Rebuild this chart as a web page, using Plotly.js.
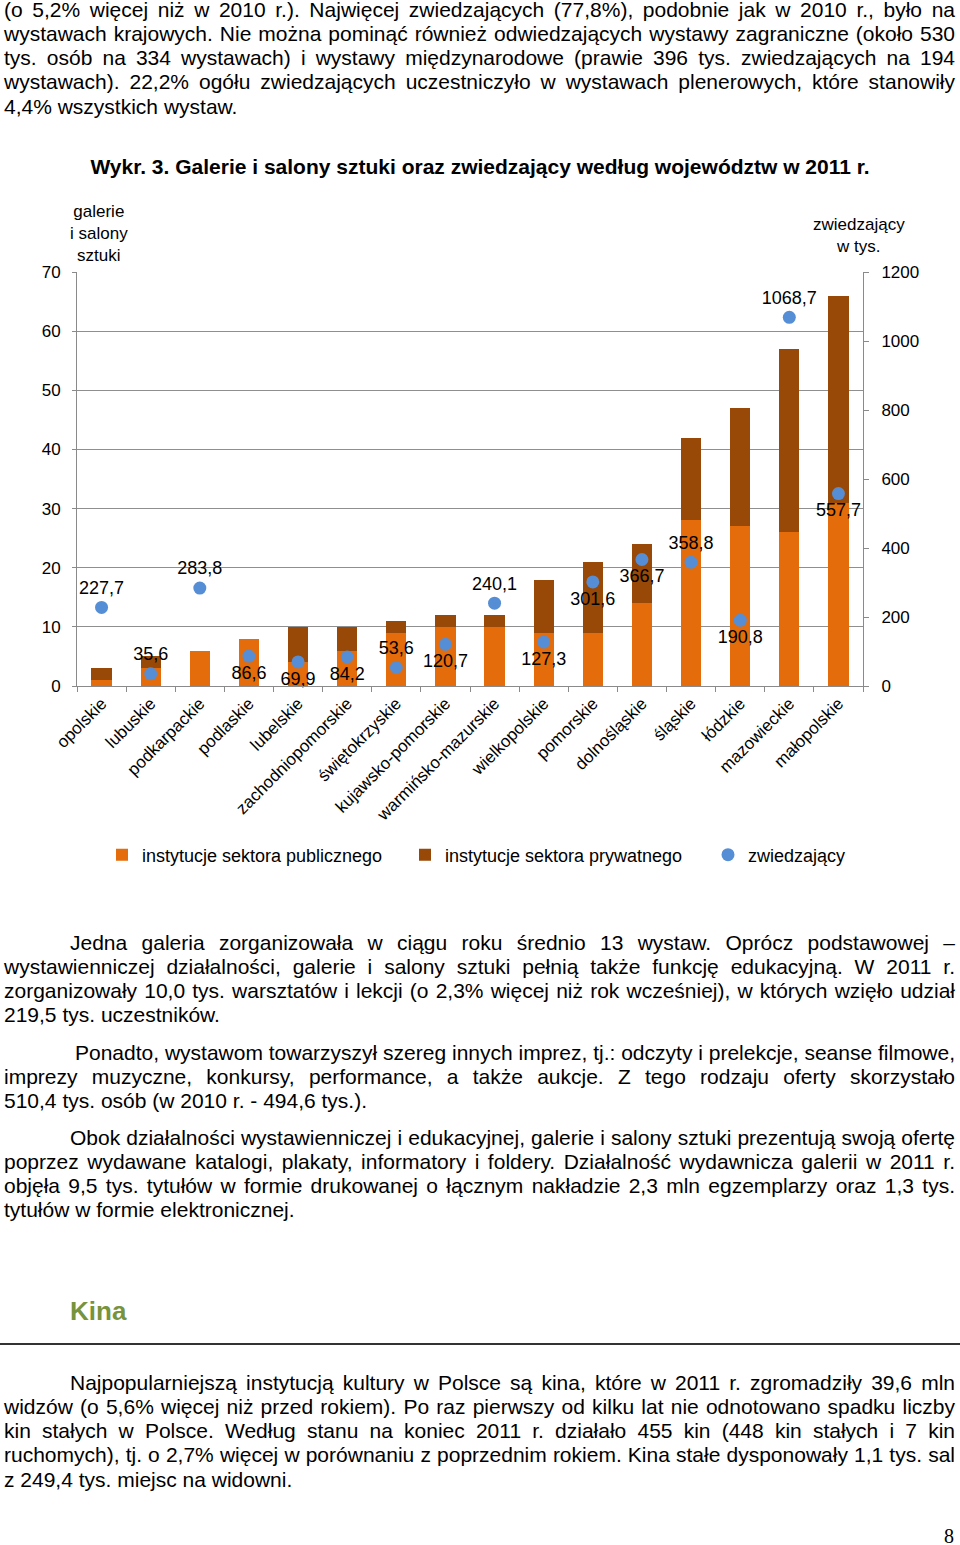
<!DOCTYPE html>
<html>
<head>
<meta charset="utf-8">
<script src="https://cdn.plot.ly/plotly-3.0.1.min.js"></script>
<style>
  html, body { margin: 0; padding: 0; background: #fff; }
  body { width: 960px; height: 1545px; position: relative; overflow: hidden;
         font-family: "Liberation Sans", Arial, sans-serif; color: #000; }
  .blk { position: absolute; left: 4px; width: 951px; font-size: 21px; line-height: 24.25px; }
  .ln { display: block; white-space: nowrap; height: 24.25px; }
  .ln span { display: inline-block; white-space: nowrap; }
  #chart { position: absolute; left: 0; top: 140px; width: 960px; height: 760px; }
  #kina { position: absolute; left: 70px; top: 1294px; font-size: 26px; font-weight: bold; color: #77933C; line-height: 34px; }
  #rule { position: absolute; left: 0; top: 1343px; width: 960px; height: 2px; background: #333; }
  #pg { position: absolute; left: 944px; top: 1524px; font-family: "Liberation Serif", "Times New Roman", serif; font-size: 20px; line-height: 24px; }
</style>
</head>
<body>

<div class="blk" style="top:-2.5px">
  <div class="ln j"><span>(o 5,2% więcej niż w 2010 r.). Najwięcej zwiedzających (77,8%), podobnie jak w 2010 r., było na</span></div>
  <div class="ln j"><span>wystawach krajowych. Nie można pominąć również odwiedzających wystawy zagraniczne (około 530</span></div>
  <div class="ln j"><span>tys. osób na 334 wystawach) i wystawy międzynarodowe (prawie 396 tys. zwiedzających na 194</span></div>
  <div class="ln j"><span>wystawach). 22,2% ogółu zwiedzających uczestniczyło w wystawach plenerowych, które stanowiły</span></div>
  <div class="ln"><span>4,4% wszystkich wystaw.</span></div>
</div>

<div id="chart"></div>

<div class="blk" style="top:930.5px">
  <div class="ln j" data-indent="66"><span>Jedna galeria zorganizowała w ciągu roku średnio 13 wystaw. Oprócz podstawowej –</span></div>
  <div class="ln j"><span>wystawienniczej działalności, galerie i salony sztuki pełnią także funkcję edukacyjną. W 2011 r.</span></div>
  <div class="ln j"><span>zorganizowały 10,0 tys. warsztatów i lekcji (o 2,3% więcej niż rok wcześniej), w których wzięło udział</span></div>
  <div class="ln"><span>219,5 tys. uczestników.</span></div>
</div>

<div class="blk" style="top:1040.5px">
  <div class="ln j" data-indent="71"><span>Ponadto, wystawom towarzyszył szereg innych imprez, tj.: odczyty i prelekcje, seanse filmowe,</span></div>
  <div class="ln j"><span>imprezy muzyczne, konkursy, performance, a także aukcje. Z tego rodzaju oferty skorzystało</span></div>
  <div class="ln"><span>510,4 tys. osób (w 2010 r. - 494,6 tys.).</span></div>
</div>

<div class="blk" style="top:1125.5px">
  <div class="ln j" data-indent="66"><span>Obok działalności wystawienniczej i edukacyjnej, galerie i salony sztuki prezentują swoją ofertę</span></div>
  <div class="ln j"><span>poprzez wydawane katalogi, plakaty, informatory i foldery. Działalność wydawnicza galerii w 2011 r.</span></div>
  <div class="ln j"><span>objęła 9,5 tys. tytułów w formie drukowanej o łącznym nakładzie 2,3 mln egzemplarzy oraz 1,3 tys.</span></div>
  <div class="ln"><span>tytułów w formie elektronicznej.</span></div>
</div>

<div id="kina">Kina</div>
<div id="rule"></div>

<div class="blk" style="top:1370.5px">
  <div class="ln j" data-indent="66"><span>Najpopularniejszą instytucją kultury w Polsce są kina, które w 2011 r. zgromadziły 39,6 mln</span></div>
  <div class="ln j"><span>widzów (o 5,6% więcej niż przed rokiem). Po raz pierwszy od kilku lat nie odnotowano spadku liczby</span></div>
  <div class="ln j"><span>kin stałych w Polsce. Według stanu na koniec 2011 r. działało 455 kin (448 kin stałych i 7 kin</span></div>
  <div class="ln j"><span>ruchomych), tj. o 2,7% więcej w porównaniu z poprzednim rokiem. Kina stałe dysponowały 1,1 tys. sal</span></div>
  <div class="ln"><span>z 249,4 tys. miejsc na widowni.</span></div>
</div>

<div id="pg">8</div>

<script>
// ---- data ----
var regions = ['opolskie','lubuskie','podkarpackie','podlaskie','lubelskie','zachodniopomorskie',
  'świętokrzyskie','kujawsko-pomorskie','warmińsko-mazurskie','wielkopolskie','pomorskie',
  'dolnośląskie','śląskie','łódzkie','mazowieckie','małopolskie'];
var publicSector  = [1, 3, 6, 8, 4, 6, 9, 10, 10, 9, 9, 14, 28, 27, 26, 31];
var privateSector = [2, 2, 0, 0, 6, 4, 2, 2, 2, 9, 12, 10, 14, 20, 31, 35];
var visitors = [227.7, 35.6, 283.8, 86.6, 69.9, 84.2, 53.6, 120.7, 240.1, 127.3, 301.6,
  366.7, 358.8, 190.8, 1068.7, 557.7];
var leftTicks = [0, 10, 20, 30, 40, 50, 60, 70];
var rightTicks = [0, 200, 400, 600, 800, 1000, 1200];

var FONT = '"Liberation Sans", Arial, sans-serif';
var visitorText = visitors.map(function(v){ return v.toFixed(1).replace('.', ','); });
var labelPos = ['top center','top center','top center','bottom center','bottom center','bottom center',
  'top center','bottom center','top center','bottom center','bottom center','bottom center',
  'top center','bottom center','top center','bottom center'];

var traces = [
  { type: 'bar', name: 'instytucje sektora publicznego', x: regions, y: publicSector,
    marker: { color: '#E46C0A' }, hoverinfo: 'x+y', legend: 'legend' },
  { type: 'bar', name: 'instytucje sektora prywatnego', x: regions, y: privateSector,
    marker: { color: '#984807' }, hoverinfo: 'x+y', legend: 'legend2' },
  { type: 'scatter', mode: 'markers+text', name: 'zwiedzający', x: regions, y: visitors,
    yaxis: 'y2', marker: { color: '#558ED5', size: 13 }, text: visitorText,
    textposition: labelPos, textfont: { family: FONT, size: 18, color: '#000' },
    cliponaxis: false, hoverinfo: 'x+y', legend: 'legend3' }
];

function legendAt(px) {
  return { orientation: 'h', xref: 'container', yref: 'container', x: px/960, xanchor: 'left',
    y: 1 - 715/760, yanchor: 'middle', font: { family: FONT, size: 18, color: '#000' },
    bgcolor: 'rgba(0,0,0,0)' };
}

var layout = {
  width: 960, height: 760,
  margin: { l: 77, r: 97, t: 132, b: 214, pad: 0 },
  paper_bgcolor: '#fff', plot_bgcolor: '#fff',
  font: { family: FONT, size: 17, color: '#000' },
  barmode: 'stack', bargap: 0.59,
  title: { text: '<b>Wykr. 3. Galerie i salony sztuki oraz zwiedzający według województw w 2011 r.</b>',
    font: { family: FONT, size: 21, color: '#000' },
    xref: 'container', x: 0.5, xanchor: 'center', yref: 'container', y: 1 - 27/760, yanchor: 'middle' },
  xaxis: { type: 'category', range: [-0.5, regions.length - 0.5], autorange: false,
    tickangle: -45, tickfont: { size: 17 }, ticks: 'outside', tickson: 'boundaries',
    ticklen: 5, tickcolor: '#8a8a8a', showline: true, linecolor: '#8a8a8a', linewidth: 1, showgrid: false,
    zeroline: false, fixedrange: true },
  yaxis: { range: [0, 70], tickvals: leftTicks, showgrid: true, gridcolor: '#8f8f8f', gridwidth: 1,
    showline: true, linecolor: '#8a8a8a', ticks: 'outside', ticklen: 4, tickcolor: '#8a8a8a',
    zeroline: false, tickfont: { size: 17 }, ticklabelstandoff: 8 },
  yaxis2: { range: [0, 1200], tickvals: rightTicks, overlaying: 'y', side: 'right', showgrid: false,
    showline: true, linecolor: '#8a8a8a', ticks: 'outside', ticklen: 5, tickcolor: '#8a8a8a',
    zeroline: false, tickfont: { size: 17 }, ticklabelstandoff: 9 },
  showlegend: true,
  legend: legendAt(102),
  legend2: legendAt(405),
  legend3: legendAt(708),
  annotations: [
    { text: 'galerie<br>i salony<br>sztuki', xref: 'paper', yref: 'paper', x: (99-77)/786, y: (546-93)/414,
      xanchor: 'center', yanchor: 'middle', showarrow: false, font: { size: 17 } },
    { text: 'zwiedzający<br>w tys.', xref: 'paper', yref: 'paper', x: (859-77)/786, y: (546-95.5)/414,
      xanchor: 'center', yanchor: 'middle', showarrow: false, font: { size: 17 } }
  ]
};

Plotly.newPlot('chart', traces, layout, { displayModeBar: false, staticPlot: true });

function justify() {
  document.querySelectorAll('.ln').forEach(function (el) {
    var ind = parseFloat(el.getAttribute('data-indent') || '0');
    var sp = el.querySelector('span');
    sp.style.marginLeft = ind + 'px';
    if (!el.classList.contains('j')) return;
    sp.style.wordSpacing = '0px';
    var natural = sp.getBoundingClientRect().width;
    var spaces = (sp.textContent.match(/ /g) || []).length;
    var target = 951 - ind;
    if (spaces > 0) sp.style.wordSpacing = ((target - natural) / spaces) + 'px';
  });
}
justify();
if (document.fonts && document.fonts.ready) document.fonts.ready.then(justify);
</script>
</body>
</html>
